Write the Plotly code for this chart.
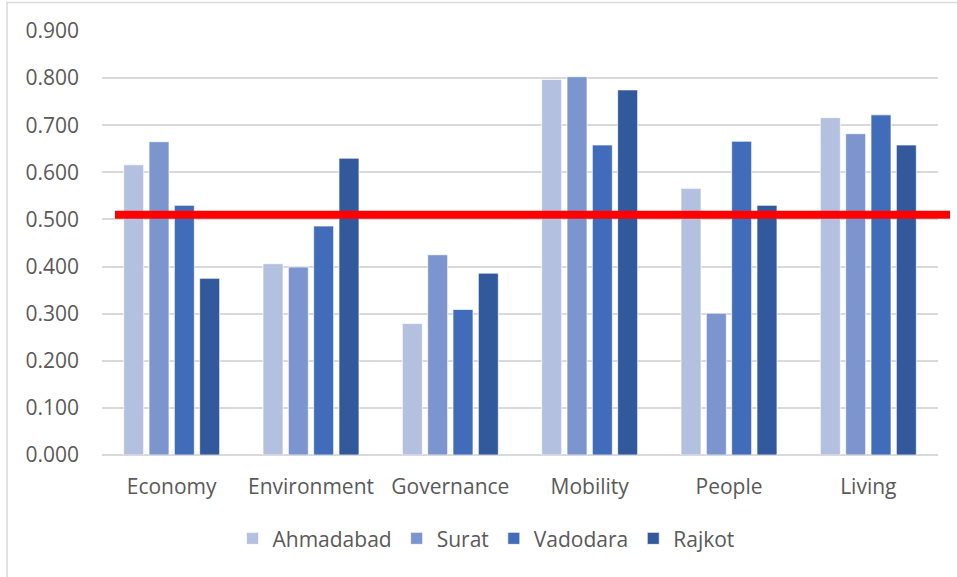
import plotly.graph_objects as go

categories = ["Economy", "Environment", "Governance", "Mobility", "People", "Living"]
ahmadabad = [0.616, 0.406, 0.279, 0.797, 0.566, 0.716]
surat = [0.665, 0.399, 0.425, 0.803, 0.301, 0.682]
vadodara = [0.530, 0.486, 0.309, 0.658, 0.666, 0.722]
rajkot = [0.375, 0.630, 0.386, 0.775, 0.530, 0.658]
series_names = ["Ahmadabad", "Surat", "Vadodara", "Rajkot"]
series_colors = ["#B4C0E0", "#7C95CF", "#406CBA", "#32599B"]
threshold = 0.51
y_ticks = [0.0, 0.1, 0.2, 0.3, 0.4, 0.5, 0.6, 0.7, 0.8, 0.9]

FONT = "Open Sans"
TXT = "#595959"
FS = 21

fig = go.Figure()
for name, vals, col in zip(series_names, [ahmadabad, surat, vadodara, rajkot], series_colors):
    fig.add_trace(go.Bar(
        name=name, x=categories, y=vals,
        marker=dict(color=col, line=dict(color="rgba(255,255,255,0.7)", width=1)),
    ))

L, R, T, B = 102, 19, 31, 122
W, H = 957, 577
pw, ph = W - L - R, H - T - B

# threshold line (extends beyond the plot area like in the original)
fig.add_shape(type="line", xref="paper", yref="y",
              x0=(115 - L) / pw, x1=(950 - L) / pw, y0=threshold, y1=threshold,
              line=dict(color="#FF0000", width=8), layer="above")
# chart border
fig.add_shape(type="rect", xref="paper", yref="paper",
              x0=(7 - L) / pw, x1=(965 - L) / pw,
              y0=-(590 - (H - B)) / ph, y1=1 + (T - 2.5) / ph,
              line=dict(color="#D9D9D9", width=1.5), fillcolor="rgba(0,0,0,0)", layer="below")

fig.update_layout(
    width=W, height=H,
    margin=dict(l=L, r=R, t=T, b=B, autoexpand=False),
    paper_bgcolor="white", plot_bgcolor="white",
    barmode="group", bargap=0.273, bargroupgap=0.21,
    font=dict(family=FONT, size=FS, color=TXT),
    showlegend=True,
    legend=dict(orientation="h", x=(486 - L) / pw, xanchor="center",
                y=(455 - 538.7) / ph, yanchor="middle",
                font=dict(family=FONT, size=FS, color=TXT),
                itemwidth=30, traceorder="normal", bgcolor="rgba(0,0,0,0)"),
    xaxis=dict(showgrid=False, showline=False, zeroline=False, ticks="",
               tickfont=dict(family=FONT, size=FS, color=TXT), ticklabelstandoff=17),
    yaxis=dict(range=[0, 0.9], tickvals=y_ticks, tickformat=".3f",
               showgrid=True, gridcolor="#D9D9D9", gridwidth=1.5,
               zeroline=True, zerolinecolor="#D9D9D9", zerolinewidth=1.5,
               showline=False, ticks="",
               tickfont=dict(family=FONT, size=FS, color=TXT), ticklabelstandoff=22),
)

fig.write_html("out.html", config={"displayModeBar": False},
               post_script="document.body.style.margin='0';document.body.style.overflow='hidden';")
